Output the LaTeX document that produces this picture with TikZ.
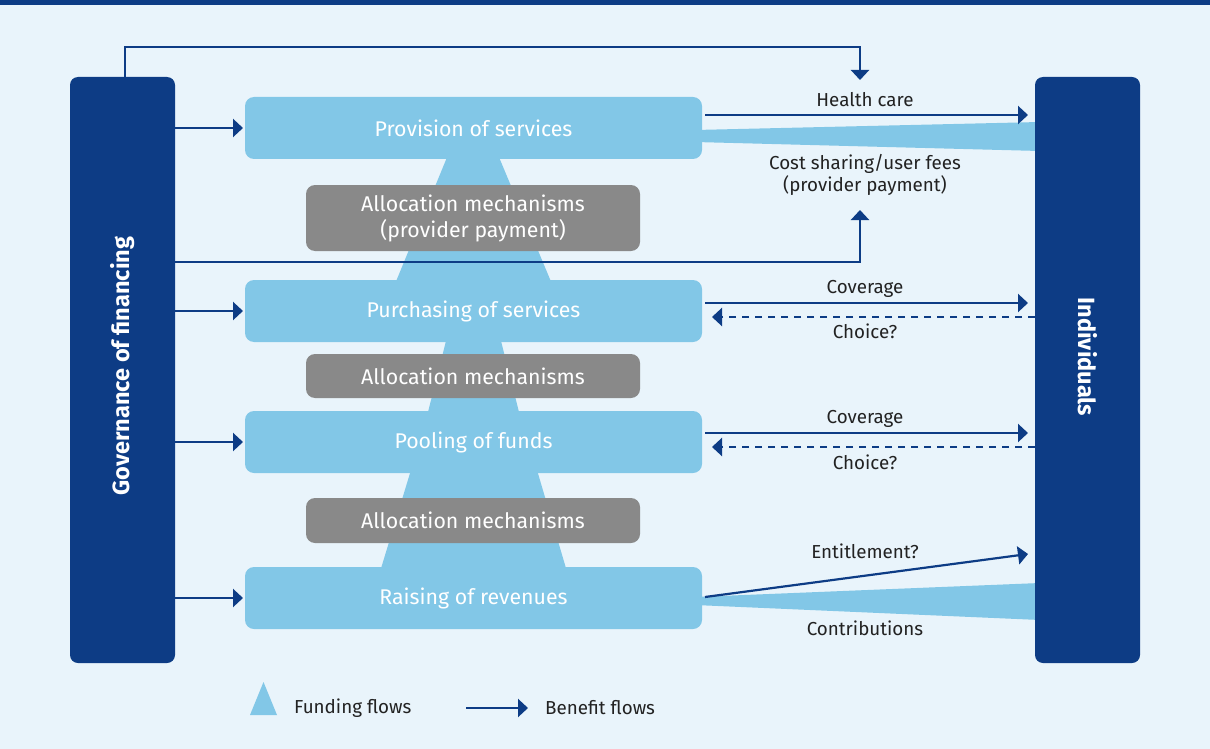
\documentclass[tikz,border=0pt]{standalone}
\usepackage{fontspec}
\setmainfont{Fira Sans}
\usetikzlibrary{arrows.meta}
\definecolor{dblue}{HTML}{0D3C85}
\definecolor{lblue}{HTML}{82C7E7}
\definecolor{gbox}{HTML}{898989}
\definecolor{bg}{HTML}{E9F4FB}
\definecolor{txt}{HTML}{222222}
\begin{document}
\begin{tikzpicture}[x=1pt,y=-1pt,
  sidebox/.style={fill=dblue,rounded corners=8pt,minimum width=105pt,minimum height=586pt,inner sep=0pt,outer sep=0pt},
  funcbox/.style={fill=lblue,rounded corners=9pt,minimum width=457pt,minimum height=62pt,inner sep=0pt,outer sep=0pt,text=white,font=\fontsize{21.3}{26}\selectfont},
  allocbox/.style={fill=gbox,rounded corners=9pt,minimum width=334pt,inner sep=0pt,outer sep=0pt,text=white,align=center,font=\fontsize{21.3}{26}\selectfont},
  benefit/.style={draw=dblue,line width=2.2pt,-{Triangle[length=10pt,width=18pt]}},
  choice/.style={draw=dblue,line width=2.2pt,dash pattern=on 7pt off 6pt,-{Triangle[length=10pt,width=18pt]}},
  lbl/.style={text=txt,font=\fontsize{18.8}{22}\selectfont,align=center,inner sep=0pt},
  sidetxt/.style={text=white,font=\bfseries\fontsize{23.5}{26}\selectfont,inner sep=0pt}]
\useasboundingbox (0,0) rectangle (1210,749);
\fill[bg] (0,0) rectangle (1210,749);
\fill[dblue] (0,0) rectangle (1210,5);

% funding flow trapezoids
\fill[lblue] (450,150) -- (496,150) -- (554.5,290) -- (392.5,290) -- cycle;
\fill[lblue] (447.5,335) -- (499.5,335) -- (521,420) -- (426,420) -- cycle;
\fill[lblue] (412.5,465) -- (535.5,465) -- (568,575) -- (379,575) -- cycle;
% wedges to individuals
\fill[lblue] (695,130) -- (1040,122) -- (1040,151) -- (695,142) -- cycle;
\fill[lblue] (695,597) -- (1040,583) -- (1040,620) -- (695,605) -- cycle;

% side boxes
\node[sidebox] (gov) at (122.5,370) {};
\node[sidebox] (ind) at (1087.5,370) {};
\node[sidetxt,rotate=90] (govt) at (122.5,366) {Governance of financing};
\node[sidetxt,rotate=-90] (indt) at (1087.5,357) {Individuals};

% function boxes
\node[funcbox] (prov) at (473.5,128) {Provision of services};
\node[funcbox] (purch) at (473.5,311) {Purchasing of services};
\node[funcbox] (pool) at (473.5,442) {Pooling of funds};
\node[funcbox] (raise) at (473.5,598) {Raising of revenues};

% allocation boxes
\node[allocbox,minimum height=66pt] (al1) at (473,218) {Allocation mechanisms\\(provider payment)};
\node[allocbox,minimum height=44pt] (al2) at (473,376) {Allocation mechanisms};
\node[allocbox,minimum height=45pt] (al3) at (473,520.5) {Allocation mechanisms};

% governance arrows
\draw[benefit] (gov.east |- prov.west) -- ([xshift=-2pt]prov.west);
\draw[benefit] (gov.east |- purch.west) -- ([xshift=-2pt]purch.west);
\draw[benefit] (gov.east |- pool.west) -- ([xshift=-2pt]pool.west);
\draw[benefit] (gov.east |- raise.west) -- ([xshift=-2pt]raise.west);

% top connector
\coordinate (topend) at (860,80);
\draw[benefit] ([xshift=2.5pt]gov.north) -- ++(0,-30) -| (topend);
% cost sharing connector
\coordinate (csend) at (860,210);
\draw[benefit] (gov.east |- 0,262) -| (csend);

% health care
\draw[benefit] ([xshift=3pt]prov.east |- 0,115) -- ([xshift=-7pt]ind.west |- 0,115);
\node[lbl] (hc) at (865,100) {Health care};
\node[lbl] (cs) at (865,175) {Cost sharing/user fees\\(provider payment)};

% purchasing
\draw[benefit] ([xshift=3pt]purch.east |- 0,303) -- ([xshift=-7pt]ind.west |- 0,303);
\draw[choice] (ind.west |- 0,317) -- ([xshift=10pt]purch.east |- 0,317);
\node[lbl] (cov1) at (865,289) {Coverage};
\node[lbl] (ch1) at (865,331) {Choice?};

% pooling
\draw[benefit] ([xshift=3pt]pool.east |- 0,433) -- ([xshift=-7pt]ind.west |- 0,433);
\draw[choice] (ind.west |- 0,447) -- ([xshift=10pt]pool.east |- 0,447);
\node[lbl] (cov2) at (865,419) {Coverage};
\node[lbl] (ch2) at (865,462) {Choice?};

% raising
\draw[benefit] ([xshift=3pt]raise.east |- 0,597) -- ([xshift=-7pt]ind.west |- 0,554);
\node[lbl] (ent) at (865,551) {Entitlement?};
\node[lbl] (con) at (865,628) {Contributions};

% legend
\fill[lblue] (250,715) -- (263.5,682) -- (277,715) -- cycle;
\node[lbl,anchor=west] (lf) at (294,708) {Funding flows};
\coordinate (la) at (466,708);
\coordinate (lb) at (528,708);
\draw[benefit] (la) -- (lb);
\node[lbl,anchor=west] (lbf) at (545,708) {Benefit flows};
\end{tikzpicture}
\end{document}
